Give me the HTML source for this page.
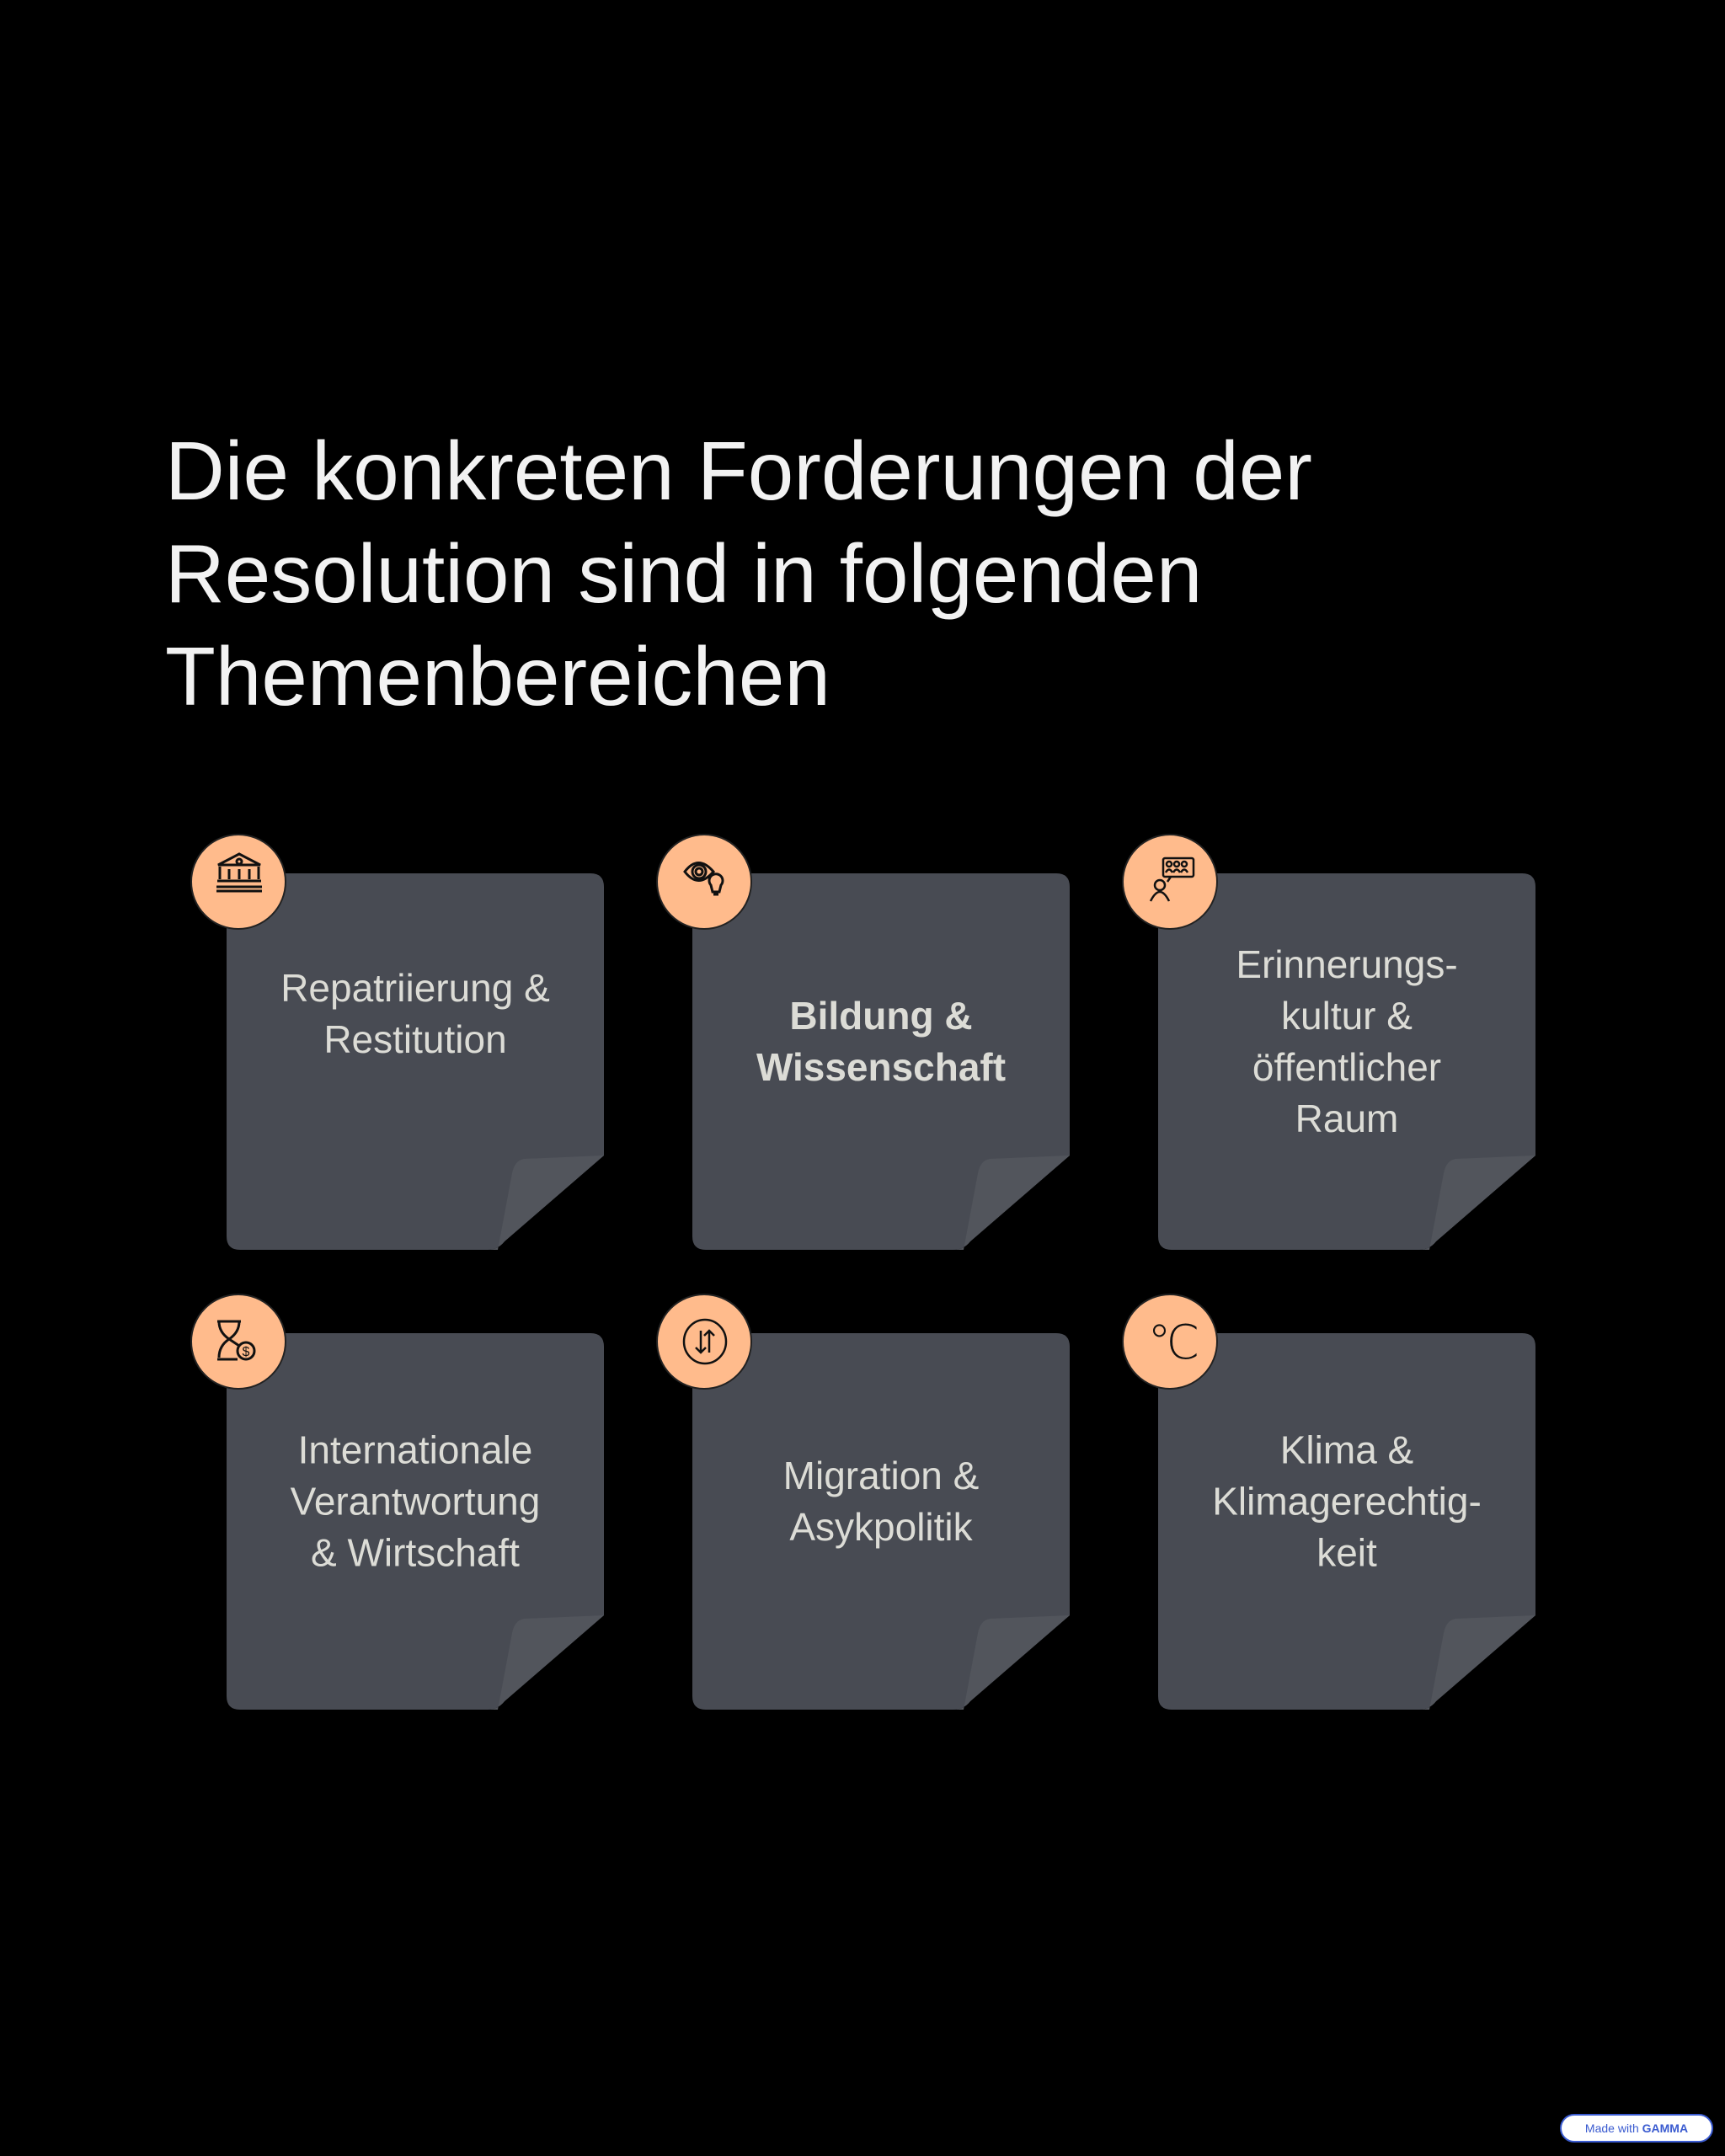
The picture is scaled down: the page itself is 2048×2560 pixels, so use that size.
<!DOCTYPE html>
<html><head><meta charset="utf-8"><style>
html,body{margin:0;padding:0;background:#000;}
body{width:2048px;height:2560px;position:relative;overflow:hidden;font-family:"Liberation Sans",sans-serif;}
.title{position:absolute;left:196px;top:498px;font-size:98px;line-height:122px;color:#f2f2f2;}
.card{position:absolute;width:448px;height:447px;}
.card svg.bg{position:absolute;left:0;top:0;}
.txt{position:absolute;left:20px;width:408px;text-align:center;color:#dcdcd6;font-size:46px;line-height:61px;transform:translateY(-50%);}
.circ{position:absolute;width:114px;height:114px;border-radius:50%;background:#ffbb8c;border:2px solid #222;box-sizing:border-box;left:-43px;top:-47px;}
.circ svg{position:absolute;left:0;top:0;}
.badge{position:absolute;left:1852px;top:2510px;width:182px;height:34px;border-radius:17px;background:#fff;border:2px solid #3a5bd0;box-sizing:border-box;font-size:14px;color:#3a5bd0;text-align:center;line-height:30px;}
</style></head><body>
<div class="title">Die konkreten Forderungen der<br>Resolution sind in folgenden<br>Themenbereichen</div>

<div class="card" style="left:269px;top:1037px;">
<svg class="bg" width="448" height="447"><path d="M0 16 Q0 0 16 0 H432 Q448 0 448 16 V335 L330 437 Q322 447 310 447 H16 Q0 447 0 431Z" fill="#484b53"/><path d="M448 335 L353 339 Q342 341 339 356 L322 447 H310 Q322 447 330 437 Z" fill="#52555c"/></svg>
<div class="txt" style="top:167px;">Repatriierung &amp;<br>Restitution</div>
<div class="circ"><svg width="114" height="114" fill="none" stroke="#111" stroke-width="3"><path d="M31 35 L56 22 L81 35 Z"/><circle cx="56" cy="31" r="3"/><path d="M33 37 V52 M79 37 V52 M44 40 V52 M56 40 V52 M68 40 V52 M30 54 H82 M29 61 H83 M29 66 H83"/></svg></div>
</div>

<div class="card" style="left:822px;top:1037px;">
<svg class="bg" width="448" height="447"><path d="M0 16 Q0 0 16 0 H432 Q448 0 448 16 V335 L330 437 Q322 447 310 447 H16 Q0 447 0 431Z" fill="#484b53"/><path d="M448 335 L353 339 Q342 341 339 356 L322 447 H310 Q322 447 330 437 Z" fill="#52555c"/></svg>
<div class="txt" style="top:200px;font-weight:bold;">Bildung &amp;<br>Wissenschaft</div>
<div class="circ"><svg width="114" height="114" fill="none" stroke="#111" stroke-width="3"><path d="M32 43 Q48 22 66 43 Q48 64 32 43Z"/><circle cx="49" cy="43" r="8"/><circle cx="49" cy="43" r="4"/><path d="M63 59 a8 8 0 1 1 12 0 l-2 8 h-8 z M66 70 h6"/></svg></div>
</div>

<div class="card" style="left:1375px;top:1037px;">
<svg class="bg" width="448" height="447"><path d="M0 16 Q0 0 16 0 H432 Q448 0 448 16 V335 L330 437 Q322 447 310 447 H16 Q0 447 0 431Z" fill="#484b53"/><path d="M448 335 L353 339 Q342 341 339 356 L322 447 H310 Q322 447 330 437 Z" fill="#52555c"/></svg>
<div class="txt" style="top:200px;">Erinnerungs-<br>kultur &amp;<br>öffentlicher<br>Raum</div>
<div class="circ"><svg width="114" height="114" fill="none" stroke="#111" stroke-width="2.5"><rect x="47" y="27" width="36" height="22" rx="2"/><path d="M52 55 L56 49"/><circle cx="54" cy="34" r="3"/><circle cx="63" cy="34" r="3"/><circle cx="72" cy="34" r="3"/><path d="M50 44 q4-7 8 0 M59 44 q4-7 8 0 M68 44 q4-7 8 0"/><circle cx="43" cy="59" r="6"/><path d="M32 78 q11-22 22 0"/></svg></div>
</div>

<div class="card" style="left:269px;top:1583px;">
<svg class="bg" width="448" height="447"><path d="M0 16 Q0 0 16 0 H432 Q448 0 448 16 V335 L330 437 Q322 447 310 447 H16 Q0 447 0 431Z" fill="#484b53"/><path d="M448 335 L353 339 Q342 341 339 356 L322 447 H310 Q322 447 330 437 Z" fill="#52555c"/></svg>
<div class="txt" style="top:200px;">Internationale<br>Verantwortung<br>&amp; Wirtschaft</div>
<div class="circ"><svg width="114" height="114" fill="none" stroke="#111" stroke-width="3"><path d="M30 31 H58 M32 31 Q32 44 44 52 Q56 60 56 60 M56 31 Q56 44 44 52 Q32 60 32 74 M30 76 H54"/><circle cx="64" cy="66" r="10"/><text x="64" y="72" font-size="16" text-anchor="middle" fill="#111" stroke="none" font-family="Liberation Sans">$</text></svg></div>
</div>

<div class="card" style="left:822px;top:1583px;">
<svg class="bg" width="448" height="447"><path d="M0 16 Q0 0 16 0 H432 Q448 0 448 16 V335 L330 437 Q322 447 310 447 H16 Q0 447 0 431Z" fill="#484b53"/><path d="M448 335 L353 339 Q342 341 339 356 L322 447 H310 Q322 447 330 437 Z" fill="#52555c"/></svg>
<div class="txt" style="top:200px;">Migration &amp;<br>Asykpolitik</div>
<div class="circ"><svg width="114" height="114" fill="none" stroke="#111" stroke-width="2.5"><ellipse cx="56" cy="55" rx="25" ry="26"/><path d="M51 42 V68 M45 62 L51 68 L57 62 M61 68 V42 M55 48 L61 42 L67 48"/></svg></div>
</div>

<div class="card" style="left:1375px;top:1583px;">
<svg class="bg" width="448" height="447"><path d="M0 16 Q0 0 16 0 H432 Q448 0 448 16 V335 L330 437 Q322 447 310 447 H16 Q0 447 0 431Z" fill="#484b53"/><path d="M448 335 L353 339 Q342 341 339 356 L322 447 H310 Q322 447 330 437 Z" fill="#52555c"/></svg>
<div class="txt" style="top:200px;">Klima &amp;<br>Klimagerechtig-<br>keit</div>
<div class="circ"><svg width="114" height="114"><text x="56" y="75" font-size="56" text-anchor="middle" fill="#111" font-family="DejaVu Sans" font-weight="200" letter-spacing="-6">°C</text></svg></div>
</div>

<div class="badge">Made with <b>GAMMA</b></div>
</body></html>
